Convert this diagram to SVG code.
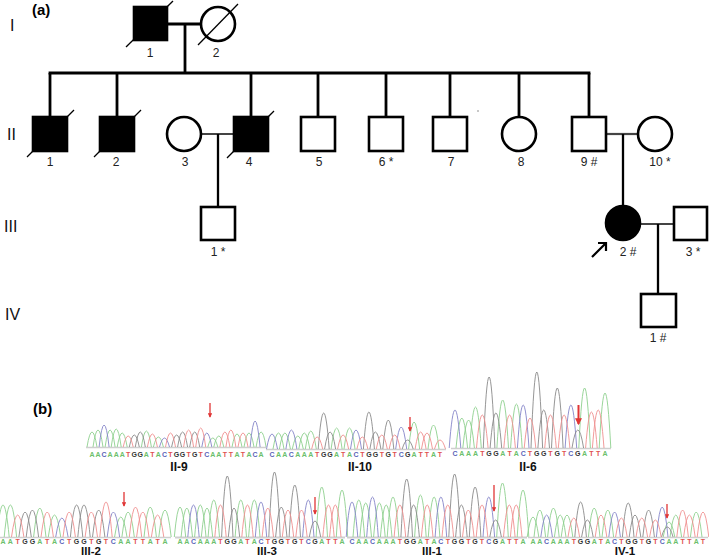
<svg xmlns="http://www.w3.org/2000/svg" width="709" height="559" viewBox="0 0 709 559">
<defs>
<style>
.bg{fill:#fff}
.sym{fill:#fff;stroke:#000;stroke-width:2.6}
.aff{fill:#000;stroke:#000;stroke-width:2.6}
.sl{stroke:#000;stroke-width:1.3;fill:none}
.ln{stroke:#000;stroke-width:2.8;fill:none}
.mar{stroke:#444;stroke-width:2.2;fill:none}
.lbl{font-family:"Liberation Sans",Arial,sans-serif;font-size:12px;fill:#222;text-anchor:middle}
.gen{font-family:"Liberation Sans",Arial,sans-serif;font-size:16px;fill:#111}
.tag{font-family:"Liberation Sans",Arial,sans-serif;font-size:15px;font-weight:bold;fill:#000}
.clab{font-family:"Liberation Sans",Arial,sans-serif;font-size:12px;font-weight:bold;fill:#111;text-anchor:middle}
.clab2{font-family:"Liberation Sans",Arial,sans-serif;font-size:11.5px;font-weight:bold;fill:#111;text-anchor:middle}
.seq{font-family:"Liberation Sans",Arial,sans-serif;font-size:7px;font-weight:bold;text-anchor:middle}
.lA{fill:#6cbf6c}.lC{fill:#5a63b8}.lG{fill:#333}.lT{fill:#e05050}
.pA,.pC,.pG,.pT{fill:none;stroke-width:0.9}
.pA{stroke:#8fd08f}.pC{stroke:#8585c8}.pG{stroke:#8a8a8a}.pT{stroke:#ef9090}
.base{stroke:#cfcfcf;stroke-width:1.4}
.red{stroke:#e03535;stroke-width:1.3;fill:none}
</style>
<marker id="ah" viewBox="0 0 6 6" refX="5" refY="3" markerWidth="3.5" markerHeight="3.5" orient="auto" markerUnits="strokeWidth">
<path d="M0,0L6,3L0,6z" fill="#e03535"/>
</marker>
</defs>
<rect class="bg" x="0" y="0" width="709" height="559"/>

<text class="tag" x="32" y="15">(a)</text>
<text class="gen" x="10" y="31">I</text>
<text class="gen" x="7" y="140">II</text>
<text class="gen" x="4" y="232">III</text>
<text class="gen" x="5" y="320">IV</text>

<g id="connectors">
<line class="ln" x1="167" y1="24" x2="201" y2="24"/>
<line class="ln" x1="185" y1="24" x2="185" y2="73"/>
<line class="ln" x1="48.6" y1="73" x2="590.4" y2="73"/>
<line class="ln" x1="50" y1="73" x2="50" y2="117"/>
<line class="ln" x1="117" y1="73" x2="117" y2="117"/>
<line class="ln" x1="251" y1="73" x2="251" y2="117"/>
<line class="ln" x1="318" y1="73" x2="318" y2="117"/>
<line class="ln" x1="386" y1="73" x2="386" y2="117"/>
<line class="ln" x1="450" y1="73" x2="450" y2="117"/>
<line class="ln" x1="519" y1="73" x2="519" y2="117"/>
<line class="ln" x1="589" y1="73" x2="589" y2="117"/>
<line class="mar" x1="201" y1="134" x2="234" y2="134"/>
<line class="ln" x1="218" y1="134" x2="218" y2="207" style="stroke-width:2.3"/>
<line class="mar" x1="606" y1="134" x2="638" y2="134"/>
<line class="ln" x1="623" y1="134" x2="623" y2="205" style="stroke-width:2.3"/>
<line class="mar" x1="641" y1="224" x2="674" y2="224"/>
<line class="ln" x1="658" y1="224" x2="658" y2="294" style="stroke-width:2.3"/>
</g>

<g id="I-1"><rect class="aff" x="134" y="7" width="33" height="33"/><line class="sl" x1="126" y1="47" x2="173" y2="1"/><text class="lbl" x="150" y="57">1</text></g>
<g id="I-2"><circle class="sym" cx="218" cy="24" r="17"/><line class="sl" x1="198" y1="45" x2="238" y2="4"/><text class="lbl" x="216" y="57">2</text></g>

<g id="II-1"><rect class="aff" x="33" y="117" width="34" height="34"/><line class="sl" x1="27" y1="157" x2="74" y2="110"/><text class="lbl" x="50" y="166">1</text></g>
<g id="II-2"><rect class="aff" x="100" y="117" width="34" height="34"/><line class="sl" x1="94" y1="157" x2="141" y2="110"/><text class="lbl" x="116" y="166">2</text></g>
<g id="II-3"><circle class="sym" cx="184" cy="134" r="17"/><text class="lbl" x="185" y="166">3</text></g>
<g id="II-4"><rect class="aff" x="234" y="117" width="34" height="34"/><line class="sl" x1="227" y1="158" x2="274" y2="111"/><text class="lbl" x="249" y="166">4</text></g>
<g id="II-5"><rect class="sym" x="301" y="117" width="34" height="34"/><text class="lbl" x="319" y="166">5</text></g>
<g id="II-6"><rect class="sym" x="369" y="117" width="34" height="34"/><text class="lbl" x="386" y="166">6 *</text></g>
<g id="II-7"><rect class="sym" x="433" y="117" width="34" height="34"/><text class="lbl" x="451" y="166">7</text></g>
<g id="II-8"><circle class="sym" cx="519" cy="134" r="17"/><text class="lbl" x="521" y="166">8</text></g>
<g id="II-9"><rect class="sym" x="572" y="117" width="34" height="34"/><text class="lbl" x="589" y="166">9 #</text></g>
<g id="II-10"><circle class="sym" cx="655" cy="134" r="17"/><text class="lbl" x="660" y="166">10 *</text></g>
<circle cx="478" cy="111" r="0.7" fill="#666"/>

<g id="III-1"><rect class="sym" x="201" y="207" width="34" height="33"/><text class="lbl" x="218" y="256">1 *</text></g>
<g id="III-2"><circle class="aff" cx="623" cy="223" r="17"/><text class="lbl" x="628" y="256">2 #</text>
<path d="M592,257L606,243M598,243H606V251" fill="none" stroke="#000" stroke-width="2.2"/></g>
<g id="III-3"><rect class="sym" x="674" y="207" width="33" height="33"/><text class="lbl" x="693" y="256">3 *</text></g>
<g id="IV-1"><rect class="sym" x="641" y="294" width="35" height="33"/><text class="lbl" x="658" y="342">1 #</text></g>

<text class="tag" x="33" y="414">(b)</text>

<g id="chrom-II-9">
<line class="base" x1="86" y1="447.5" x2="266" y2="447.5"/>
<path class="pA" d="M87,447q5,-30 10,0M93,447q5,-34 10,0M105.1,447q5,-34 10,0M111.2,447q5,-36 10,0M117.2,447q5,-28 10,0M141.4,447q5,-32 10,0M153.4,447q5,-20 10,0M207.8,447q5,-18 10,0M213.8,447q5,-22 10,0M232,447q5,-26 10,0M244,447q5,-28 10,0M256.1,447q5,-30 10,0"/>
<path class="pC" d="M99.1,447q5,-44 10,0M159.5,447q5,-18 10,0M201.8,447q5,-28 10,0M250.1,447q5,-52 10,0"/>
<path class="pG" d="M129.3,447q5,-24 10,0M135.3,447q5,-30 10,0M171.6,447q5,-24 10,0M177.6,447q5,-30 10,0M189.7,447q5,-30 10,0"/>
<path class="pT" d="M123.2,447q5,-22 10,0M147.4,447q5,-26 10,0M165.5,447q5,-28 10,0M183.6,447q5,-34 10,0M195.7,447q5,-38 10,0M219.9,447q5,-30 10,0M225.9,447q5,-34 10,0M238,447q5,-28 10,0"/>
<text class="seq" y="457"><tspan class="lA" x="92">A</tspan><tspan class="lA" x="98">A</tspan><tspan class="lC" x="104.1">C</tspan><tspan class="lA" x="110.1">A</tspan><tspan class="lA" x="116.2">A</tspan><tspan class="lA" x="122.2">A</tspan><tspan class="lT" x="128.2">T</tspan><tspan class="lG" x="134.3">G</tspan><tspan class="lG" x="140.3">G</tspan><tspan class="lA" x="146.4">A</tspan><tspan class="lT" x="152.4">T</tspan><tspan class="lA" x="158.4">A</tspan><tspan class="lC" x="164.5">C</tspan><tspan class="lT" x="170.5">T</tspan><tspan class="lG" x="176.6">G</tspan><tspan class="lG" x="182.6">G</tspan><tspan class="lT" x="188.6">T</tspan><tspan class="lG" x="194.7">G</tspan><tspan class="lT" x="200.7">T</tspan><tspan class="lC" x="206.8">C</tspan><tspan class="lA" x="212.8">A</tspan><tspan class="lA" x="218.8">A</tspan><tspan class="lT" x="224.9">T</tspan><tspan class="lT" x="230.9">T</tspan><tspan class="lA" x="237">A</tspan><tspan class="lT" x="243">T</tspan><tspan class="lA" x="249">A</tspan><tspan class="lC" x="255.1">C</tspan><tspan class="lA" x="261.1">A</tspan></text>
<line class="red" x1="210" y1="403" x2="210" y2="417" marker-end="url(#ah)"/>
<text class="clab" x="179" y="471">II-9</text>
</g>

<g id="chrom-II-10">
<line class="base" x1="266" y1="449.5" x2="446" y2="449.5"/>
<path class="pA" d="M273,449q5.5,-32 11,0M279.4,449q5.5,-32 11,0M292.3,449q5.5,-26 11,0M298.8,449q5.5,-32 11,0M305.3,449q5.5,-36 11,0M331.1,449q5.5,-42 11,0M344,449q5.5,-42 11,0M408.6,449q5.5,-54 11,0M428,449q5.5,-48 11,0"/>
<path class="pC" d="M266.5,449q5.5,-30 11,0M285.9,449q5.5,-38 11,0M350.5,449q5.5,-38 11,0M395.7,449q5.5,-44 11,0"/>
<path class="pG" d="M318.2,449q5.5,-72 11,0M324.6,449q5.5,-34 11,0M363.4,449q5.5,-74 11,0M369.9,449q5.5,-34 11,0M382.8,449q5.5,-58 11,0M402.2,449q5.5,-18 11,0"/>
<path class="pT" d="M311.7,449q5.5,-24 11,0M337.6,449q5.5,-28 11,0M356.9,449q5.5,-24 11,0M376.3,449q5.5,-28 11,0M389.2,449q5.5,-28 11,0M415.1,449q5.5,-34 11,0M421.5,449q5.5,-32 11,0M434.5,449q5.5,-18 11,0"/>
<text class="seq" y="457"><tspan class="lC" x="272">C</tspan><tspan class="lA" x="278.5">A</tspan><tspan class="lA" x="284.9">A</tspan><tspan class="lC" x="291.4">C</tspan><tspan class="lA" x="297.8">A</tspan><tspan class="lA" x="304.3">A</tspan><tspan class="lA" x="310.8">A</tspan><tspan class="lT" x="317.2">T</tspan><tspan class="lG" x="323.7">G</tspan><tspan class="lG" x="330.1">G</tspan><tspan class="lA" x="336.6">A</tspan><tspan class="lT" x="343.1">T</tspan><tspan class="lA" x="349.5">A</tspan><tspan class="lC" x="356">C</tspan><tspan class="lT" x="362.4">T</tspan><tspan class="lG" x="368.9">G</tspan><tspan class="lG" x="375.4">G</tspan><tspan class="lT" x="381.8">T</tspan><tspan class="lG" x="388.3">G</tspan><tspan class="lT" x="394.7">T</tspan><tspan class="lC" x="401.2">C</tspan><tspan class="lG" x="407.7">G</tspan><tspan class="lA" x="414.1">A</tspan><tspan class="lT" x="420.6">T</tspan><tspan class="lT" x="427">T</tspan><tspan class="lA" x="433.5">A</tspan><tspan class="lT" x="440">T</tspan></text>
<line class="red" x1="410" y1="417" x2="410" y2="431" marker-end="url(#ah)"/>
<text class="clab" x="360" y="471">II-10</text>
</g>

<g id="chrom-II-6">
<line class="base" x1="451" y1="448.5" x2="611" y2="448.5"/>
<path class="pA" d="M456,448q5.8,-60 11.6,0M462.8,448q5.8,-56 11.6,0M469.7,448q5.8,-82 11.6,0M496.9,448q5.8,-96 11.6,0M510.6,448q5.8,-88 11.6,0M578.8,448q5.8,-120 11.6,0M599.2,448q5.8,-110 11.6,0"/>
<path class="pC" d="M449.2,448q5.8,-76 11.6,0M517.4,448q5.8,-86 11.6,0M565.1,448q5.8,-86 11.6,0"/>
<path class="pG" d="M483.3,448q5.8,-142 11.6,0M490.1,448q5.8,-70 11.6,0M531,448q5.8,-152 11.6,0M537.9,448q5.8,-76 11.6,0M551.5,448q5.8,-120 11.6,0M572,448q5.8,-36 11.6,0"/>
<path class="pT" d="M476.5,448q5.8,-66 11.6,0M503.8,448q5.8,-66 11.6,0M524.2,448q5.8,-60 11.6,0M544.7,448q5.8,-66 11.6,0M558.3,448q5.8,-66 11.6,0M585.6,448q5.8,-72 11.6,0M592.4,448q5.8,-76 11.6,0"/>
<text class="seq" y="456"><tspan class="lC" x="455">C</tspan><tspan class="lA" x="461.8">A</tspan><tspan class="lA" x="468.6">A</tspan><tspan class="lA" x="475.5">A</tspan><tspan class="lT" x="482.3">T</tspan><tspan class="lG" x="489.1">G</tspan><tspan class="lG" x="495.9">G</tspan><tspan class="lA" x="502.7">A</tspan><tspan class="lT" x="509.6">T</tspan><tspan class="lA" x="516.4">A</tspan><tspan class="lC" x="523.2">C</tspan><tspan class="lT" x="530">T</tspan><tspan class="lG" x="536.8">G</tspan><tspan class="lG" x="543.7">G</tspan><tspan class="lT" x="550.5">T</tspan><tspan class="lG" x="557.3">G</tspan><tspan class="lT" x="564.1">T</tspan><tspan class="lC" x="570.9">C</tspan><tspan class="lG" x="577.8">G</tspan><tspan class="lA" x="584.6">A</tspan><tspan class="lT" x="591.4">T</tspan><tspan class="lT" x="598.2">T</tspan><tspan class="lA" x="605">A</tspan></text>
<line class="red" x1="578.5" y1="405" x2="578.5" y2="424" marker-end="url(#ah)" style="stroke-width:2"/>
<text class="clab" x="528" y="471">II-6</text>
</g>

<g id="chrom-III-2">
<line class="base" x1="0" y1="537.5" x2="171" y2="537.5"/>
<path class="pA" d="M-3.2,537q6.2,-64 12.4,0M4.2,537q6.2,-64 12.4,0M33.6,537q6.2,-58 12.4,0M48.3,537q6.2,-44 12.4,0M114.6,537q6.2,-40 12.4,0M121.9,537q6.2,-50 12.4,0M144,537q6.2,-60 12.4,0M158.8,537q6.2,-54 12.4,0"/>
<path class="pC" d="M55.7,537q6.2,-38 12.4,0M107.2,537q6.2,-50 12.4,0"/>
<path class="pG" d="M18.9,537q6.2,-50 12.4,0M26.2,537q6.2,-54 12.4,0M70.4,537q6.2,-64 12.4,0M77.8,537q6.2,-64 12.4,0M92.5,537q6.2,-54 12.4,0"/>
<path class="pT" d="M11.5,537q6.2,-44 12.4,0M41,537q6.2,-50 12.4,0M63,537q6.2,-50 12.4,0M85.1,537q6.2,-50 12.4,0M99.8,537q6.2,-70 12.4,0M129.3,537q6.2,-60 12.4,0M136.6,537q6.2,-50 12.4,0M151.4,537q6.2,-44 12.4,0"/>
<text class="seq" y="544"><tspan class="lA" x="3">A</tspan><tspan class="lA" x="10.4">A</tspan><tspan class="lT" x="17.7">T</tspan><tspan class="lG" x="25.1">G</tspan><tspan class="lG" x="32.4">G</tspan><tspan class="lA" x="39.8">A</tspan><tspan class="lT" x="47.2">T</tspan><tspan class="lA" x="54.5">A</tspan><tspan class="lC" x="61.9">C</tspan><tspan class="lT" x="69.2">T</tspan><tspan class="lG" x="76.6">G</tspan><tspan class="lG" x="84">G</tspan><tspan class="lT" x="91.3">T</tspan><tspan class="lG" x="98.7">G</tspan><tspan class="lT" x="106">T</tspan><tspan class="lC" x="113.4">C</tspan><tspan class="lA" x="120.8">A</tspan><tspan class="lA" x="128.1">A</tspan><tspan class="lT" x="135.5">T</tspan><tspan class="lT" x="142.8">T</tspan><tspan class="lA" x="150.2">A</tspan><tspan class="lT" x="157.6">T</tspan><tspan class="lA" x="165">A</tspan></text>
<line class="red" x1="124" y1="492" x2="124" y2="506" marker-end="url(#ah)"/>
<text class="clab2" x="91" y="555">III-2</text>
</g>

<g id="chrom-III-3">
<line class="base" x1="175" y1="537.5" x2="345" y2="537.5" style="stroke-width:2.2"/>
<path class="pA" d="M174.3,537q5.7,-60 11.4,0M181.1,537q5.7,-58 11.4,0M194.6,537q5.7,-64 11.4,0M201.3,537q5.7,-58 11.4,0M208.1,537q5.7,-74 11.4,0M235.1,537q5.7,-74 11.4,0M248.6,537q5.7,-74 11.4,0M316.1,537q5.7,-100 11.4,0M336.3,537q5.7,-94 11.4,0"/>
<path class="pC" d="M187.8,537q5.7,-64 11.4,0M255.3,537q5.7,-70 11.4,0M302.6,537q5.7,-74 11.4,0"/>
<path class="pG" d="M221.6,537q5.7,-122 11.4,0M228.3,537q5.7,-58 11.4,0M268.8,537q5.7,-130 11.4,0M275.6,537q5.7,-60 11.4,0M289.1,537q5.7,-104 11.4,0M309.3,537q5.7,-32 11.4,0"/>
<path class="pT" d="M214.8,537q5.7,-64 11.4,0M241.8,537q5.7,-64 11.4,0M262.1,537q5.7,-58 11.4,0M282.3,537q5.7,-54 11.4,0M295.8,537q5.7,-54 11.4,0M322.8,537q5.7,-64 11.4,0M329.6,537q5.7,-64 11.4,0"/>
<text class="seq" y="544"><tspan class="lA" x="180">A</tspan><tspan class="lA" x="186.8">A</tspan><tspan class="lC" x="193.5">C</tspan><tspan class="lA" x="200.3">A</tspan><tspan class="lA" x="207">A</tspan><tspan class="lA" x="213.8">A</tspan><tspan class="lT" x="220.5">T</tspan><tspan class="lG" x="227.3">G</tspan><tspan class="lG" x="234">G</tspan><tspan class="lA" x="240.8">A</tspan><tspan class="lT" x="247.5">T</tspan><tspan class="lA" x="254.3">A</tspan><tspan class="lC" x="261">C</tspan><tspan class="lT" x="267.8">T</tspan><tspan class="lG" x="274.5">G</tspan><tspan class="lG" x="281.3">G</tspan><tspan class="lT" x="288">T</tspan><tspan class="lG" x="294.8">G</tspan><tspan class="lT" x="301.5">T</tspan><tspan class="lC" x="308.3">C</tspan><tspan class="lG" x="315">G</tspan><tspan class="lA" x="321.8">A</tspan><tspan class="lT" x="328.5">T</tspan><tspan class="lT" x="335.3">T</tspan><tspan class="lA" x="342">A</tspan></text>
<line class="red" x1="315" y1="497" x2="315" y2="514" marker-end="url(#ah)"/>
<text class="clab2" x="267" y="555">III-3</text>
</g>

<g id="chrom-III-1">
<line class="base" x1="347" y1="537.5" x2="527" y2="537.5" style="stroke-width:2.2"/>
<path class="pA" d="M353,537q5.8,-74 11.6,0M359.9,537q5.8,-68 11.6,0M373.6,537q5.8,-68 11.6,0M380.4,537q5.8,-64 11.6,0M387.2,537q5.8,-80 11.6,0M414.6,537q5.8,-84 11.6,0M428.3,537q5.8,-80 11.6,0M496.7,537q5.8,-108 11.6,0M517.2,537q5.8,-94 11.6,0"/>
<path class="pC" d="M346.2,537q5.8,-70 11.6,0M366.7,537q5.8,-80 11.6,0M435.1,537q5.8,-80 11.6,0M483,537q5.8,-80 11.6,0"/>
<path class="pG" d="M400.9,537q5.8,-116 11.6,0M407.8,537q5.8,-64 11.6,0M448.8,537q5.8,-126 11.6,0M455.6,537q5.8,-64 11.6,0M469.3,537q5.8,-100 11.6,0M489.8,537q5.8,-34 11.6,0"/>
<path class="pT" d="M394.1,537q5.8,-64 11.6,0M421.4,537q5.8,-64 11.6,0M442,537q5.8,-64 11.6,0M462.5,537q5.8,-54 11.6,0M476.2,537q5.8,-64 11.6,0M503.5,537q5.8,-64 11.6,0M510.4,537q5.8,-64 11.6,0"/>
<text class="seq" y="544"><tspan class="lC" x="352">C</tspan><tspan class="lA" x="358.8">A</tspan><tspan class="lA" x="365.7">A</tspan><tspan class="lC" x="372.5">C</tspan><tspan class="lA" x="379.4">A</tspan><tspan class="lA" x="386.2">A</tspan><tspan class="lA" x="393">A</tspan><tspan class="lT" x="399.9">T</tspan><tspan class="lG" x="406.7">G</tspan><tspan class="lG" x="413.6">G</tspan><tspan class="lA" x="420.4">A</tspan><tspan class="lT" x="427.2">T</tspan><tspan class="lA" x="434.1">A</tspan><tspan class="lC" x="440.9">C</tspan><tspan class="lT" x="447.8">T</tspan><tspan class="lG" x="454.6">G</tspan><tspan class="lG" x="461.4">G</tspan><tspan class="lT" x="468.3">T</tspan><tspan class="lG" x="475.1">G</tspan><tspan class="lT" x="482">T</tspan><tspan class="lC" x="488.8">C</tspan><tspan class="lG" x="495.6">G</tspan><tspan class="lA" x="502.5">A</tspan><tspan class="lT" x="509.3">T</tspan><tspan class="lT" x="516.2">T</tspan><tspan class="lA" x="523">A</tspan></text>
<line class="red" x1="494" y1="485" x2="494" y2="511" marker-end="url(#ah)"/>
<text class="clab2" x="432" y="555">III-1</text>
</g>

<g id="chrom-IV-1">
<line class="base" x1="528" y1="537.5" x2="708" y2="537.5"/>
<path class="pA" d="M527.2,537q5.8,-40 11.6,0M534,537q5.8,-54 11.6,0M547.6,537q5.8,-58 11.6,0M554.4,537q5.8,-44 11.6,0M561.2,537q5.8,-44 11.6,0M588.4,537q5.8,-58 11.6,0M602,537q5.8,-54 11.6,0M663.2,537q5.8,-30 11.6,0M670,537q5.8,-44 11.6,0M690.4,537q5.8,-50 11.6,0"/>
<path class="pC" d="M540.8,537q5.8,-44 11.6,0M608.8,537q5.8,-50 11.6,0M656.4,537q5.8,-60 11.6,0"/>
<path class="pG" d="M574.8,537q5.8,-70 11.6,0M581.6,537q5.8,-34 11.6,0M622.4,537q5.8,-68 11.6,0M629.2,537q5.8,-44 11.6,0M642.8,537q5.8,-54 11.6,0M661.5,537q5.8,-20 11.6,0"/>
<path class="pT" d="M568,537q5.8,-38 11.6,0M595.2,537q5.8,-44 11.6,0M615.6,537q5.8,-38 11.6,0M636,537q5.8,-38 11.6,0M649.6,537q5.8,-34 11.6,0M676.8,537q5.8,-54 11.6,0M683.6,537q5.8,-44 11.6,0M697.2,537q5.8,-50 11.6,0"/>
<text class="seq" y="544"><tspan class="lA" x="533">A</tspan><tspan class="lA" x="539.8">A</tspan><tspan class="lC" x="546.6">C</tspan><tspan class="lA" x="553.4">A</tspan><tspan class="lA" x="560.2">A</tspan><tspan class="lA" x="567">A</tspan><tspan class="lT" x="573.8">T</tspan><tspan class="lG" x="580.6">G</tspan><tspan class="lG" x="587.4">G</tspan><tspan class="lA" x="594.2">A</tspan><tspan class="lT" x="601">T</tspan><tspan class="lA" x="607.8">A</tspan><tspan class="lC" x="614.6">C</tspan><tspan class="lT" x="621.4">T</tspan><tspan class="lG" x="628.2">G</tspan><tspan class="lG" x="635">G</tspan><tspan class="lT" x="641.8">T</tspan><tspan class="lG" x="648.6">G</tspan><tspan class="lT" x="655.4">T</tspan><tspan class="lC" x="662.2">C</tspan><tspan class="lA" x="669">A</tspan><tspan class="lA" x="675.8">A</tspan><tspan class="lT" x="682.6">T</tspan><tspan class="lT" x="689.4">T</tspan><tspan class="lA" x="696.2">A</tspan><tspan class="lT" x="703">T</tspan></text>
<line class="red" x1="667" y1="504" x2="667" y2="518" marker-end="url(#ah)"/>
<text class="clab2" x="625" y="555">IV-1</text>
</g>
</svg>
